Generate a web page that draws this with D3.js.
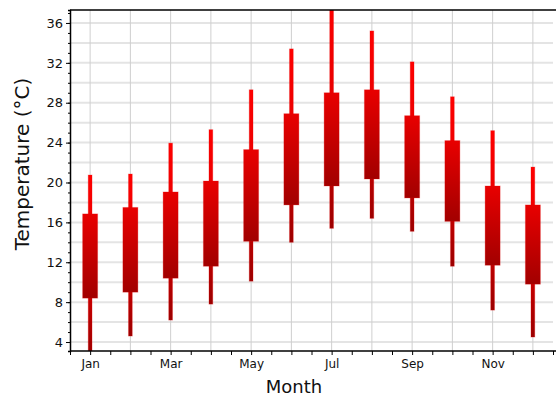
<!DOCTYPE html>
<html>
<head>
<meta charset="utf-8">
<script src="https://cdn.jsdelivr.net/npm/d3@7"></script>
<style>
  body { margin: 0; background: #fff; }
  text { font-family: "DejaVu Sans", sans-serif; }
</style>
</head>
<body>
<div id="wrapper"></div>
<script>
// monthly temperature ranges (°C)
const months = ["Jan","Feb","Mar","Apr","May","Jun","Jul","Aug","Sep","Oct","Nov","Dec"]
const lows   = [2.5, 4.6, 6.2, 7.8, 10.1, 14.0, 15.4, 16.4, 15.1, 11.6, 7.2, 4.5]
const opens  = [8.4, 9.0, 10.4, 11.6, 14.1, 17.75, 19.65, 20.35, 18.45, 16.1, 11.7, 9.8]
const closes = [16.85, 17.5, 19.05, 20.15, 23.3, 26.9, 29.0, 29.3, 26.7, 24.2, 19.65, 17.75]
const highs  = [20.75, 20.85, 23.95, 25.3, 29.3, 33.4, 38.5, 35.2, 32.1, 28.6, 25.2, 21.55]
const yTickValues = [4, 8, 12, 16, 20, 24, 28, 32, 36]

const dataset = months.map((m, i) => ({
  month: i + 1, name: m, low: lows[i], open: opens[i], close: closes[i], high: highs[i]
}))

const dimensions = {
  width: 556,
  height: 400,
  margin: { top: 10, right: 3, bottom: 49, left: 70 },
}
dimensions.boundedWidth = dimensions.width - dimensions.margin.left - dimensions.margin.right
dimensions.boundedHeight = dimensions.height - dimensions.margin.top - dimensions.margin.bottom

const wrapper = d3.select("#wrapper").append("svg")
  .attr("width", dimensions.width)
  .attr("height", dimensions.height)

const defs = wrapper.append("defs")
const bodyGrad = defs.append("linearGradient").attr("id", "bodyGrad")
  .attr("x1", 0).attr("y1", 0).attr("x2", 0).attr("y2", 1)
bodyGrad.append("stop").attr("offset", "0%").attr("stop-color", "#e80000")
bodyGrad.append("stop").attr("offset", "100%").attr("stop-color", "#a20000")
const wickGrad = defs.append("linearGradient").attr("id", "wickGrad")
  .attr("x1", 0).attr("y1", 0).attr("x2", 0).attr("y2", 1)
wickGrad.append("stop").attr("offset", "0%").attr("stop-color", "#ff0000")
wickGrad.append("stop").attr("offset", "45%").attr("stop-color", "#e60000")
wickGrad.append("stop").attr("offset", "100%").attr("stop-color", "#9a0000")

defs.append("clipPath").attr("id", "plotClip")
  .append("rect")
  .attr("width", dimensions.boundedWidth)
  .attr("height", dimensions.boundedHeight)

const bounds = wrapper.append("g")
  .attr("transform", `translate(${dimensions.margin.left},${dimensions.margin.top})`)

// scales
const xScale = d3.scaleLinear()
  .domain([0.5, 12.5])
  .range([0, dimensions.boundedWidth])

const yScale = d3.scaleLinear()
  .domain([3.1, 37.3])
  .range([dimensions.boundedHeight, 0])

// grid
bounds.append("g")
  .selectAll("line")
  .data(d3.range(4, 37, 2))
  .join("line")
  .attr("x1", 0).attr("x2", dimensions.boundedWidth)
  .attr("y1", d => yScale(d)).attr("y2", d => yScale(d))
  .attr("stroke", "#e4e4e4")
  .attr("stroke-width", 2)

bounds.append("g")
  .selectAll("line")
  .data(d3.range(1, 13))
  .join("line")
  .attr("x1", d => xScale(d)).attr("x2", d => xScale(d))
  .attr("y1", 0).attr("y2", dimensions.boundedHeight)
  .attr("stroke", "#cfcfcf")
  .attr("stroke-width", 1)

// candles
const candles = bounds.append("g")
  .attr("clip-path", "url(#plotClip)")
  .selectAll("g")
  .data(dataset)
  .join("g")

candles.append("rect")
  .attr("x", d => xScale(d.month) - 1.9)
  .attr("width", 3.8)
  .attr("y", d => yScale(d.high))
  .attr("height", d => yScale(d.low) - yScale(d.high))
  .attr("fill", "url(#wickGrad)")
  .attr("stroke", "rgba(230,0,0,0.25)")
  .attr("stroke-width", 1)

candles.append("rect")
  .attr("x", d => xScale(d.month) - 7.5)
  .attr("width", 15)
  .attr("y", d => yScale(d.close))
  .attr("height", d => yScale(d.open) - yScale(d.close))
  .attr("fill", "url(#bodyGrad)")
  .attr("stroke", "rgba(230,0,0,0.25)")
  .attr("stroke-width", 1)

// axes
const yAxisMinor = d3.axisLeft(yScale)
  .tickValues(d3.range(4, 38))
  .tickSize(2)
  .tickFormat("")
const yAxis = d3.axisLeft(yScale)
  .tickValues(yTickValues)
  .tickSize(4)
  .tickPadding(3)

const yAxisG = bounds.append("g").call(yAxisMinor)
bounds.append("g").call(yAxis)
  .call(g => g.select(".domain").remove())
  .call(g => g.selectAll("text").attr("font-size", 13).attr("fill", "#111"))
yAxisG.select(".domain").attr("stroke", "#000").attr("stroke-width", 1.5)

const xAxis = d3.axisBottom(xScale)
  .tickValues(d3.range(0.5, 12.6, 0.5))
  .tickSize(4)
  .tickPadding(4)
  .tickFormat(d => (Number.isInteger(d) && d % 2 === 1) ? months[d - 1] : "")

bounds.append("g")
  .attr("transform", `translate(0,${dimensions.boundedHeight})`)
  .call(xAxis)
  .call(g => g.select(".domain").attr("stroke", "#000").attr("stroke-width", 1.5)
    .attr("d", `M0,0H${dimensions.width - dimensions.margin.left}`))
  .call(g => g.selectAll("text").attr("font-size", 12).attr("fill", "#111"))

// top border
bounds.append("line")
  .attr("x1", 0).attr("x2", dimensions.width - dimensions.margin.left)
  .attr("y1", 0).attr("y2", 0)
  .attr("stroke", "#000").attr("stroke-width", 1.5)

// labels
wrapper.append("text")
  .attr("x", 294)
  .attr("y", 393)
  .attr("text-anchor", "middle")
  .attr("font-size", 18)
  .attr("fill", "#111")
  .text("Month")

wrapper.append("text")
  .attr("transform", `translate(29,164) rotate(-90)`)
  .attr("text-anchor", "middle")
  .attr("font-size", 20)
  .attr("fill", "#111")
  .text("Temperature (°C)")
</script>
</body>
</html>
